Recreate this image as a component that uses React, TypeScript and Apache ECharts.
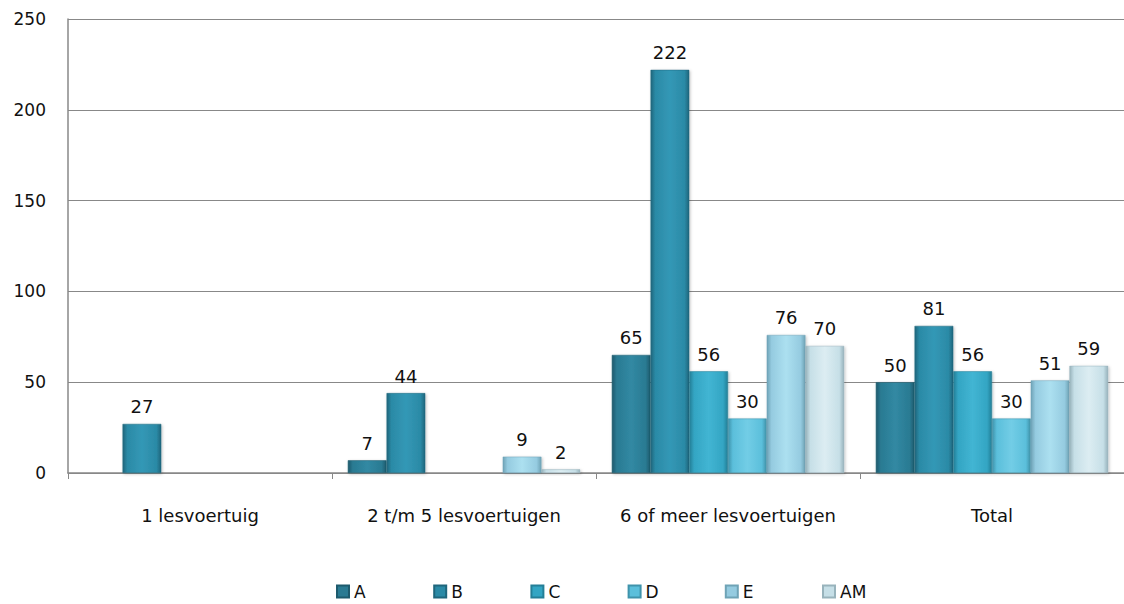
import React, { useEffect, useRef } from "react";
import * as echarts from "echarts";

const categories = ["1 lesvoertuig", "2 t/m 5 lesvoertuigen", "6 of meer lesvoertuigen", "Total"];
const seriesNames = ["A", "B", "C", "D", "E", "AM"];
const valuesA = [null, 7, 65, 50];
const valuesB = [27, 44, 222, 81];
const valuesC = [null, null, 56, 56];
const valuesD = [null, null, 30, 30];
const valuesE = [null, 9, 76, 51];
const valuesAM = [null, 2, 70, 59];
const allValues = [valuesA, valuesB, valuesC, valuesD, valuesE, valuesAM];
const yTicks = [0, 50, 100, 150, 200, 250];

const baseColors = ["#2a7a92", "#2b8aa6", "#33a5c3", "#5bbfdb", "#95cbe0", "#c6dfe7"];
const darkColors = ["#1d5a6d", "#1f667c", "#247f97", "#3f93ab", "#6fa3b6", "#98b3bc"];
const lightColors = ["#3189a3", "#3398b6", "#42b5d3", "#72cde6", "#ace0f0", "#dcedf2"];

const FONT = "DejaVu Sans";

export default function App() {
  const ref = useRef<HTMLDivElement>(null);
  useEffect(() => {
    if (!ref.current) return;
    const chart = echarts.init(ref.current, undefined, { renderer: "svg" });
    const series = seriesNames.map((name, i) => ({
      name,
      type: "bar" as const,
      data: allValues[i],
      barGap: "0%",
      barCategoryGap: "12%",
      itemStyle: {
        color: {
          type: "linear",
          x: 0,
          y: 0,
          x2: 1,
          y2: 0,
          colorStops: [
            { offset: 0, color: darkColors[i] },
            { offset: 0.12, color: baseColors[i] },
            { offset: 0.5, color: lightColors[i] },
            { offset: 0.88, color: baseColors[i] },
            { offset: 1, color: darkColors[i] },
          ],
        },
        borderColor: darkColors[i],
        borderWidth: 0.5,
        shadowColor: "rgba(0,0,0,0.25)",
        shadowBlur: 3,
        shadowOffsetX: 1,
        shadowOffsetY: 1,
      },
      label: {
        show: true,
        position: "top",
        distance: 8,
        color: "#111",
        fontFamily: FONT,
        fontSize: 18,
      },
    }));
    const legends = seriesNames.map((n, i) => ({
      data: [{ name: n, itemStyle: { color: baseColors[i] } }],
      left: 336 + i * 97.2,
      top: 583,
      padding: 0,
      itemWidth: 12,
      itemHeight: 12,
      itemGap: 4,
      icon: "rect",
      textStyle: { fontFamily: FONT, fontSize: 17, color: "#111" },
    }));
    chart.setOption({
      animation: false,
      backgroundColor: "#ffffff",
      grid: { left: 68, top: 19, width: 1058, height: 454 },
      legend: legends,
      xAxis: {
        type: "category",
        data: categories,
        axisLine: { show: true, lineStyle: { color: "#888", width: 1.5 } },
        axisTick: { show: true, length: 6, lineStyle: { color: "#888" } },
        axisLabel: { interval: 0, margin: 33, fontFamily: FONT, fontSize: 18, color: "#111" },
      },
      yAxis: {
        type: "value",
        min: 0,
        max: yTicks[yTicks.length - 1],
        interval: 50,
        axisLine: { show: true, lineStyle: { color: "#888", width: 1.5 } },
        axisTick: { show: false },
        axisLabel: { margin: 22, fontFamily: FONT, fontSize: 17, color: "#111" },
        splitLine: { show: true, lineStyle: { color: "#888", width: 1.2 } },
      },
      series,
    });
    return () => chart.dispose();
  }, []);
  return (
    <div
      ref={ref}
      style={{ position: "fixed", left: 0, top: 0, width: 1124, height: 604, background: "#fff" }}
    />
  );
}
